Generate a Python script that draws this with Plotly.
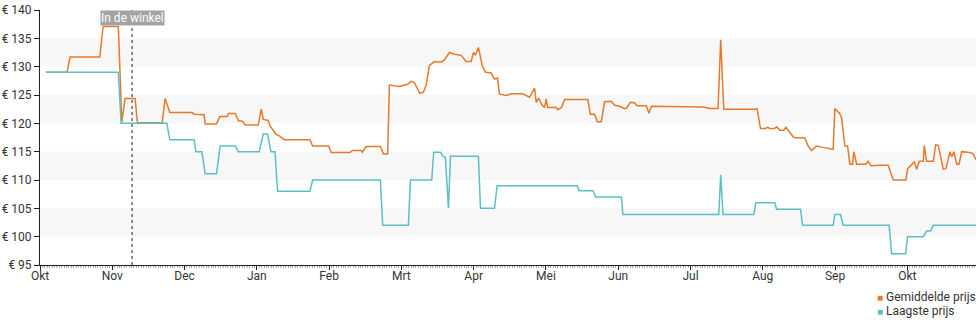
import plotly.graph_objects as go

# Month labels (x axis positions 0..12, evenly spaced)
months = ["Okt", "Nov", "Dec", "Jan", "Feb", "Mrt", "Apr", "Mei", "Jun", "Jul", "Aug", "Sep", "Okt"]

# Gemiddelde prijs (average price): x = month position, y = euro
avg_x = [0.083, 0.374, 0.416, 0.827, 0.873, 1.084, 1.132, 1.177, 1.316, 1.348, 1.690, 1.731, 1.796,
         2.105, 2.133, 2.271, 2.285, 2.442, 2.489, 2.590, 2.608, 2.701, 2.747, 2.798, 2.839, 3.019,
         3.061, 3.089, 3.158, 3.181, 3.265, 3.310, 3.380, 3.735, 3.772, 3.993, 4.030, 4.289, 4.321,
         4.442, 4.460, 4.511, 4.709, 4.751, 4.810, 4.834, 4.972, 5.087, 5.134, 5.180, 5.253, 5.305,
         5.342, 5.388, 5.457, 5.550, 5.596, 5.665, 5.734, 5.827, 5.896, 5.965, 5.997, 6.025, 6.066,
         6.118, 6.163, 6.242, 6.288, 6.330, 6.357, 6.450, 6.519, 6.680, 6.773, 6.842, 6.866, 6.898,
         6.949, 6.981, 7.004, 7.022, 7.143, 7.161, 7.216, 7.258, 7.580, 7.614, 7.673, 7.711, 7.766,
         7.812, 7.904, 7.950, 8.019, 8.089, 8.116, 8.168, 8.227, 8.259, 8.389, 8.425, 8.458, 8.688,
         9.173, 9.266, 9.381, 9.418, 9.460, 9.879, 9.921, 9.968, 10.037, 10.065, 10.097, 10.166,
         10.190, 10.235, 10.291, 10.319, 10.374, 10.429, 10.582, 10.627, 10.674, 10.744, 10.813,
         10.974, 10.997, 11.066, 11.090, 11.136, 11.173, 11.205, 11.242, 11.260, 11.298, 11.427,
         11.458, 11.496, 11.620, 11.735, 11.805, 11.981, 12.004, 12.096, 12.129, 12.165, 12.220,
         12.234, 12.267, 12.359, 12.392, 12.428, 12.497, 12.535, 12.590, 12.614, 12.645, 12.683,
         12.715, 12.752, 12.843, 12.904, 12.950]
avg_y = [129.0, 129.0, 131.7, 131.7, 137.1, 137.1, 120.2, 124.4, 124.4, 120.1, 120.1, 124.4, 121.9,
         121.9, 121.6, 121.5, 119.9, 119.9, 121.2, 121.2, 121.75, 121.75, 120.4, 120.4, 119.7, 119.7,
         122.5, 120.7, 120.5, 119.6, 118.1, 117.8, 117.1, 117.1, 116.0, 116.0, 114.85, 114.85, 115.2,
         115.2, 114.9, 115.9, 115.9, 114.6, 114.6, 126.75, 126.5, 126.9, 127.4, 127.2, 125.3, 125.5,
         126.75, 130.2, 130.9, 130.8, 131.2, 132.5, 132.2, 132.0, 130.9, 130.9, 132.5, 132.0, 133.4,
         130.2, 129.0, 128.9, 127.8, 128.0, 125.2, 124.9, 125.2, 125.2, 124.6, 126.2, 123.7, 124.4,
         123.2, 122.8, 124.3, 122.8, 122.8, 122.4, 122.8, 124.2, 124.2, 121.6, 121.6, 120.3, 120.3,
         123.8, 123.9, 123.2, 123.0, 122.6, 122.7, 123.7, 123.6, 123.1, 123.1, 121.8, 123.0, 123.0,
         122.9, 122.6, 122.6, 134.75, 122.5, 122.5, 122.6, 119.1, 119.1, 119.3, 119.1, 119.1,
         119.4, 118.8, 118.8, 119.3, 118.4, 117.5, 117.4, 116.0, 115.2, 116.0, 115.8,
         115.4, 122.6, 121.7, 121.0, 116.0, 116.0, 112.8, 112.8, 115.0, 112.8, 112.8,
         113.3, 112.5, 112.6, 112.6, 110.0, 110.0, 112.0, 113.2, 111.9, 113.3, 113.3,
         116.1, 113.3, 113.3, 116.2, 116.1, 111.9, 112.0, 115.0, 114.1, 115.0, 112.8,
         112.8, 115.0, 114.9, 114.7, 113.6]

# Laagste prijs (lowest price)
low_x = [0.083, 1.084, 1.122, 1.755, 1.796, 2.133, 2.157, 2.240, 2.285, 2.442, 2.493, 2.701, 2.742,
         3.033, 3.089, 3.148, 3.195, 3.251, 3.287, 3.735, 3.772, 4.709, 4.741, 5.097, 5.125, 5.420,
         5.447, 5.540, 5.572, 5.609, 5.651, 5.679, 6.066, 6.094, 6.288, 6.325, 7.434, 7.456, 7.650,
         7.687, 8.043, 8.065, 9.391, 9.418, 9.450, 9.875, 9.903, 10.166, 10.190, 10.522, 10.550,
         10.974, 10.997, 11.076, 11.112, 11.749, 11.782, 11.976, 12.004, 12.220, 12.267, 12.323,
         12.359, 12.950]
low_y = [129, 129, 120, 120, 117.1, 117.1, 115.0, 115.0, 111.1, 111.1, 116.0, 116.0, 115.0,
         115.0, 118.1, 118.1, 115.0, 115.0, 108.0, 108.0, 110.0, 110.0, 102.0, 102.0, 110.0, 110.0,
         114.9, 114.9, 114.2, 114.0, 105.0, 114.2, 114.2, 105.0, 105.0, 109.0, 109.0, 108.1, 108.1,
         107.0, 107.0, 103.9, 103.9, 110.9, 103.9, 103.9, 106.0, 106.0, 104.85, 104.85, 102.0,
         102.0, 103.9, 103.9, 102.0, 102.0, 97.0, 97.0, 100.0, 100.0, 101.0, 101.0,
         102.0, 102.0]

store_x = [1.274]
store_label = ["In de winkel"]
series_names = ["Gemiddelde prijs", "Laagste prijs"]

ORANGE = "#e8792b"
TEAL = "#5cbfc8"
FONT = "Roboto, Arial, sans-serif"

fig = go.Figure()
fig.add_trace(go.Scatter(x=avg_x, y=avg_y, mode="lines", line=dict(color=ORANGE, width=1.5),
                         showlegend=False, name=series_names[0]))
fig.add_trace(go.Scatter(x=low_x, y=low_y, mode="lines", line=dict(color=TEAL, width=1.5),
                         showlegend=False, name=series_names[1]))

shapes = []
for lo in [100, 110, 120, 130]:
    shapes.append(dict(type="rect", xref="paper", x0=0, x1=1, yref="y", y0=lo, y1=lo + 5,
                       fillcolor="#f7f7f7", line=dict(width=0), layer="below"))
shapes.append(dict(type="line", xref="x", x0=store_x[0], x1=store_x[0], yref="paper", y0=0, y1=1,
                   line=dict(color="#222", width=1, dash="dot")))

annotations = [dict(x=store_x[0], xref="x", y=0.97, yref="paper", text=store_label[0],
                    showarrow=False, bgcolor="#a3a3a3", font=dict(color="white", size=12, family=FONT),
                    borderpad=0, xanchor="center", yanchor="middle")]
# legend (square swatch + label), bottom right
for i, (name, col) in enumerate(zip(series_names, [ORANGE, TEAL])):
    annotations.append(dict(
        x=0.8925, xref="paper", y=-0.1255 - 0.055 * i, yref="paper", xanchor="left", yanchor="middle",
        showarrow=False, align="left",
        text=f'<span style="color:{col};font-size:10px">■</span> {name}',
        font=dict(size=12, color="#333", family=FONT)))

fig.update_layout(
    width=980, height=325,
    margin=dict(l=40, r=4, t=10, b=60, autoexpand=False),
    paper_bgcolor="white", plot_bgcolor="white",
    font=dict(family=FONT, size=12, color="#333"),
    shapes=shapes,
    annotations=annotations,
    showlegend=False,
    xaxis=dict(range=[0, 12.95], tickvals=list(range(len(months))), ticktext=months,
               showgrid=False, zeroline=False, showline=True, linecolor="#222", linewidth=1,
               ticks="outside", ticklen=4, tickcolor="#222", automargin=False,
               ticklabelstandoff=-4,
               minor=dict(dtick=1/30, ticks="outside", ticklen=2, tickcolor="#aaa", showgrid=False),
               tickfont=dict(size=12, color="#333")),
    yaxis=dict(range=[95, 140], dtick=5, tick0=95, tickprefix="€ ", showgrid=False, zeroline=False,
               showline=True, linecolor="#222", linewidth=1, ticks="outside", ticklen=5,
               tickcolor="#222", automargin=False, tickfont=dict(size=12, color="#333")),
)

fig.write_html("out.html")
